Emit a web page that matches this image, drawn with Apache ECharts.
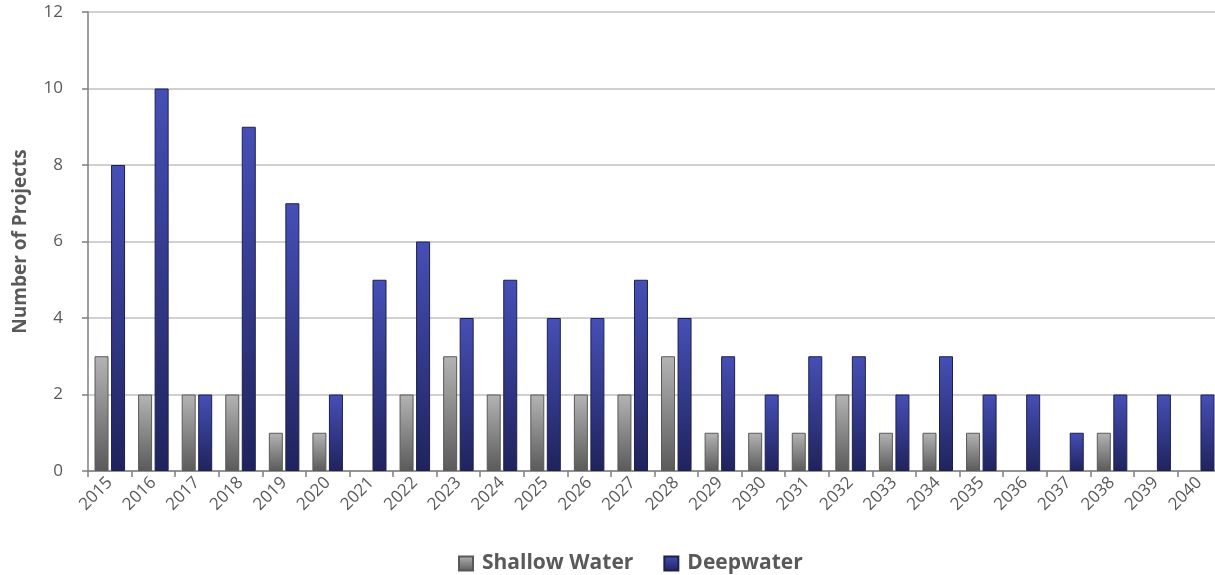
<!DOCTYPE html>
<html>
<head>
<meta charset="utf-8">
<script src="https://cdn.jsdelivr.net/npm/echarts@6/dist/echarts.min.js"></script>
<style>
  html, body { margin: 0; padding: 0; background: #fff; }
  #chart { width: 1215px; height: 575px; }
</style>
</head>
<body>
<div id="chart"></div>
<script>
// Project start years
const years = ['2015','2016','2017','2018','2019','2020','2021','2022','2023','2024','2025','2026','2027',
               '2028','2029','2030','2031','2032','2033','2034','2035','2036','2037','2038','2039','2040'];
// Number of projects per year
const shallowWater = [3,2,2,2,1,1,0,2,3,2,2,2,2,3,1,1,1,2,1,1,1,0,0,1,0,0];
const deepwater    = [8,10,2,9,7,2,5,6,4,5,4,4,5,4,3,2,3,3,2,3,2,2,1,2,2,2];
const yTicks = [0, 2, 4, 6, 8, 10, 12];

const FONT = '"Open Sans", Lato, sans-serif';
const TEXT = '#595959';

function grad(top, bottom) {
  return new echarts.graphic.LinearGradient(0, 0, 0, 1, [
    { offset: 0, color: top },
    { offset: 1, color: bottom }
  ]);
}
// years with no projects get no bar at all (not even an outline)
const noZero = arr => arr.map(v => (v === 0 ? '-' : v));

const chart = echarts.init(document.getElementById('chart'), null, { renderer: 'canvas' });
chart.setOption({
  animation: false,
  textStyle: { fontFamily: FONT },
  grid: { left: 88, top: 12, right: -6, bottom: 104, containLabel: false, outerBoundsMode: 'none' },
  legend: {
    top: 553,
    left: 458,
    padding: 0,
    itemWidth: 14,
    itemHeight: 14,
    itemGap: 30,
    icon: 'rect',
    textStyle: { fontFamily: FONT, fontSize: 21, fontWeight: 'bold', color: TEXT, padding: [0, 0, 0, 4] },
    data: ['Shallow Water', 'Deepwater']
  },
  xAxis: {
    type: 'category',
    data: years,
    axisLine: { lineStyle: { color: '#7f7f7f', width: 1.5 } },
    axisTick: { show: true, length: 6, lineStyle: { color: '#7f7f7f', width: 1.5 } },
    axisLabel: { rotate: 45, color: TEXT, fontSize: 17, fontFamily: FONT, margin: 9, interval: 0 }
  },
  yAxis: {
    type: 'value',
    min: yTicks[0],
    max: yTicks[yTicks.length - 1],
    interval: 2,
    name: 'Number of Projects',
    nameLocation: 'middle',
    nameGap: 58,
    nameTextStyle: { fontFamily: FONT, fontSize: 19, fontWeight: 'bold', color: TEXT },
    axisLine: { show: true, lineStyle: { color: '#7f7f7f', width: 1.5 } },
    axisTick: { show: true, length: 6, lineStyle: { color: '#7f7f7f', width: 1.5 } },
    axisLabel: { color: TEXT, fontSize: 17, fontFamily: FONT, margin: 25 },
    splitLine: { lineStyle: { color: '#c0c0c0', width: 1.5 } }
  },
  series: [
    {
      name: 'Shallow Water',
      type: 'bar',
      data: noZero(shallowWater),
      barWidth: 14,
      barGap: '18%',
      itemStyle: { color: grad('#b4b4b4', '#5a5a5a'), borderColor: '#595959', borderWidth: 1 }
    },
    {
      name: 'Deepwater',
      type: 'bar',
      data: noZero(deepwater),
      barWidth: 14,
      itemStyle: { color: grad('#464fb6', '#1f235c'), borderColor: '#1c2050', borderWidth: 1 }
    }
  ]
});
</script>
</body>
</html>
